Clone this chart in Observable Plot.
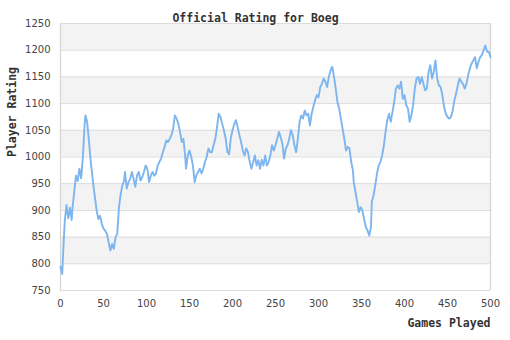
<!DOCTYPE html>
<html>
<head>
<meta charset="utf-8">
<script src="https://cdn.jsdelivr.net/npm/d3@7"></script>
<script src="https://cdn.jsdelivr.net/npm/@observablehq/plot@0.6"></script>
<style>
  body { margin: 0; background: #fff; }
</style>
</head>
<body>
<div id="chart"></div>
<script>
const title = "Official Rating for Boeg";
const xLabel = "Games Played";
const yLabel = "Player Rating";

const games = [
  0,2,3,5,7,9,11,13,14,16,18,20,22,24,26,27,28,29,31,33,35,38,42,44,46,48,50,52,54,56,58,60,62,64,66,68,70,72,74,75,77,79,81,83,85,87,89,91,93,95,97,99,
  101,103,105,107,109,111,113,115,117,119,121,123,125,127,129,131,133,135,137,139,141,143,145,146,148,150,152,154,156,158,160,162,164,166,168,170,172,174,176,178,180,182,184,186,188,190,192,194,196,198,
  200,202,204,206,208,210,212,214,216,218,220,222,224,226,228,230,232,234,236,238,240,242,244,246,248,250,252,254,256,258,260,262,264,266,268,270,272,274,276,278,280,282,284,286,288,290,292,294,296,298,
  300,302,304,306,308,310,312,314,316,318,320,322,324,326,328,330,332,334,336,338,340,341,343,345,347,349,351,353,355,357,359,361,362,364,366,368,370,372,374,376,378,380,382,384,386,388,390,392,394,396,398,
  400,402,404,406,408,410,412,414,416,418,420,422,424,426,428,430,432,434,436,438,440,442,444,446,448,450,452,454,456,458,460,462,464,466,468,470,472,474,476,478,480,482,484,486,488,490,492,494,496,498,500
];
const ratings = [
  795,781,819,881,910,885,905,882,905,935,965,955,978,960,1000,1030,1060,1078,1065,1031,994,950,900,884,890,875,866,862,856,840,825,837,828,850,856,906,931,947,956,972,941,953,959,972,959,944,966,972,956,962,972,984,
  978,953,965,972,965,969,984,991,997,1009,1019,1031,1028,1034,1041,1053,1078,1072,1062,1047,1028,1034,1000,978,1003,1012,1000,984,953,966,972,978,969,978,991,1000,1016,1009,1009,1022,1034,1056,1081,1075,1062,1050,1035,1010,1005,1035,
  1050,1062,1069,1056,1041,1028,1012,1003,1016,1009,991,978,990,1003,984,994,978,995,984,1003,984,991,1003,1022,1012,1022,1034,1047,1037,1025,997,1016,1022,1034,1050,1041,1022,1009,1034,1066,1078,1072,1087,1078,1081,1059,1081,1094,1106,1116,
  1112,1131,1137,1147,1141,1131,1150,1162,1169,1150,1128,1103,1091,1072,1053,1034,1012,1019,1016,991,975,953,934,916,897,906,900,884,869,862,853,869,916,928,947,969,984,991,1003,1022,1047,1069,1081,1066,1084,1103,1128,1134,1128,1141,1109,
  1116,1097,1091,1066,1078,1097,1128,1147,1150,1137,1150,1137,1125,1128,1159,1172,1147,1159,1181,1147,1134,1131,1116,1094,1081,1075,1072,1075,1087,1106,1119,1134,1147,1141,1137,1128,1137,1153,1166,1175,1181,1187,1166,1178,1187,1191,1200,1209,1197,1197,1187
];
const xTicks = [0,50,100,150,200,250,300,350,400,450,500];
const yTicks = [750,800,850,900,950,1000,1050,1100,1150,1200,1250];
const stripeLows = [800,900,1000,1100,1200];

const data = games.map((g, i) => ({game: g, rating: ratings[i]}));

const chart = Plot.plot({
  width: 510,
  height: 340,
  marginLeft: 60,
  marginRight: 20,
  marginTop: 23,
  marginBottom: 50,
  style: {fontFamily: "DejaVu Sans", fontSize: "10px", color: "#444", background: "#fff"},
  x: {domain: [0, 500], ticks: xTicks, label: null},
  y: {domain: [750, 1250], ticks: yTicks, label: null},
  marks: [
    Plot.rectY(stripeLows, {x1: 0, x2: 500, y1: d => d, y2: d => d + 50, fill: "#f3f3f3"}),
    Plot.ruleY(yTicks, {stroke: "#dcdcdc", strokeWidth: 1}),
    Plot.ruleX([0, 500], {stroke: "#d4d4d4", strokeWidth: 1.2}),
    Plot.line(data, {x: "game", y: "rating", stroke: "#7db5ef", strokeWidth: 1.9}),
    Plot.axisX({ticks: xTicks, tickFormat: d => String(d), tickSize: 0, tickPadding: 9, fill: "#444", label: null, fontSize: 10}),
    Plot.axisY({ticks: yTicks, tickFormat: d => String(d), tickSize: 0, tickPadding: 10, fill: "#444", label: null, fontSize: 10}),
    Plot.text([title], {frameAnchor: "top", dx: -20, dy: -10, fontFamily: "DejaVu Sans Mono", fontWeight: "bold", fontSize: 11.5, fill: "#333"}),
    Plot.text([yLabel], {frameAnchor: "left", dx: -48, rotate: -90, fontFamily: "DejaVu Sans Mono", fontWeight: "bold", fontSize: 11.5, fill: "#333"}),
    Plot.text([xLabel], {frameAnchor: "bottom-right", textAnchor: "end", dy: 36, fontFamily: "DejaVu Sans Mono", fontWeight: "bold", fontSize: 11.5, fill: "#333"})
  ]
});
document.getElementById("chart").appendChild(chart);
</script>
</body>
</html>
